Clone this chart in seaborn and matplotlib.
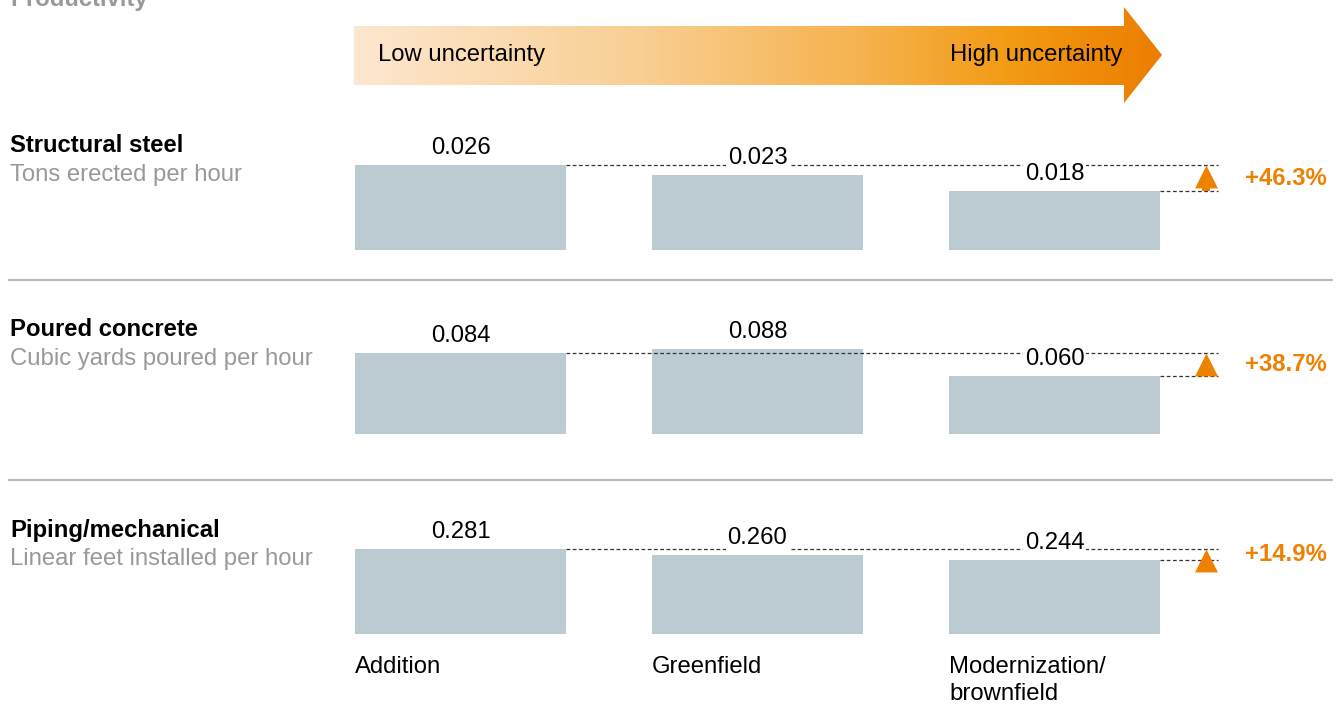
import numpy as np
import pandas as pd
import matplotlib
matplotlib.use("Agg")
import matplotlib.pyplot as plt
import seaborn as sns
from matplotlib.colors import LinearSegmentedColormap
from matplotlib.patches import Polygon

# ----------- Data -----------
categories = ["Addition", "Greenfield", "Modernization/\nbrownfield"]
titles = ["Structural steel", "Poured concrete", "Piping/mechanical"]
subtitles = ["Tons erected per hour", "Cubic yards poured per hour",
             "Linear feet installed per hour"]
steel = [0.026, 0.023, 0.018]
concrete = [0.084, 0.088, 0.060]
piping = [0.281, 0.260, 0.244]
changes = ["+46.3%", "+38.7%", "+14.9%"]

# ----------- Style -----------
sns.set_style("white")
plt.rcParams["font.family"] = ["Liberation Sans", "DejaVu Sans"]
plt.rcParams["text.color"] = "black"
FS = 17.2
BAR = "#bccbd2"
ORANGE = "#ee8100"
GREY = "#999999"

W, H = 1338, 704
fig = plt.figure(figsize=(W / 100, H / 100), dpi=100)

# background axes in pixel coordinates for headers, arrow, separators
bg = fig.add_axes([0, 0, 1, 1])
bg.set_xlim(0, W)
bg.set_ylim(H, 0)
bg.axis("off")

bg.text(10, 6, "Productivity", fontsize=FS, fontweight="bold", color=GREY, va="baseline")

# gradient arrow
arrow_pts = [(354, 26), (1124, 26), (1124, 7), (1162, 55), (1124, 103), (1124, 85), (354, 85)]
arrow = Polygon(arrow_pts, closed=True, facecolor="none", edgecolor="none")
bg.add_patch(arrow)
cmap = LinearSegmentedColormap.from_list(
    "unc", [(0, "#fde7cf"), (0.35, "#f9cf94"), (0.62, "#f6b350"), (0.82, "#f39a12"), (1, "#ec7d00")])
img = bg.imshow(np.linspace(0, 1, 256).reshape(1, -1), cmap=cmap, aspect="auto",
                extent=[354, 1162, 103, 7], zorder=1)
img.set_clip_path(arrow)
bg.text(378, 55, "Low uncertainty", fontsize=FS, va="center", ha="left", zorder=2)
bg.text(1122, 55, "High uncertainty", fontsize=FS, va="center", ha="right", zorder=2)

# separators
for y in [280, 480]:
    bg.plot([9, W - 6], [y, y], color="#b9b9b9", lw=1.6)

# ----------- Panels -----------
baselines = [250, 434, 634]
panel_h = 85
pitch = 297
first_center = 460.5
bar_w = 211 / pitch
ax_left, ax_right = 340, W
xlim = ((ax_left - first_center) / pitch, (ax_right - first_center) / pitch)
x_end = (1218 - first_center) / pitch
x_tri = (1206 - first_center) / pitch
x_pct = (1245 - first_center) / pitch

for k, vals in enumerate([steel, concrete, piping]):
    base = baselines[k]
    ax = fig.add_axes([ax_left / W, 1 - base / H, (ax_right - ax_left) / W, panel_h / H])
    df = pd.DataFrame({"cat": categories, "val": vals})
    sns.barplot(data=df, x="cat", y="val", color=BAR, saturation=1, width=bar_w,
                linewidth=0, ax=ax)
    ax.set_xlim(*xlim)
    ymax = max(vals)
    ax.set_ylim(0, ymax)
    ax.axis("off")

    ax.bar_label(ax.containers[0], fmt="{:.3f}", padding=4.5, fontsize=FS, zorder=5,
                 bbox=dict(facecolor="white", edgecolor="none", pad=1))

    upper, lower = vals[0], vals[2]
    dash = dict(colors="#333333", linestyles=(0, (3, 2)), lw=0.9, zorder=3, clip_on=False)
    ax.hlines(upper, bar_w / 2, x_end, **dash)
    ax.hlines(lower, 2 + bar_w / 2, x_end, **dash)

    # arrow: stem + triangle head (23 px tall)
    px = ymax / panel_h
    stem_top = upper - 12 * px
    if stem_top > lower:
        ax.vlines(x_tri, lower, stem_top, colors=ORANGE, lw=5.8, zorder=4, clip_on=False)
    ax.plot([x_tri], [upper], marker=[(0, 0), (-1, -2), (1, -2)], ms=33, mew=0,
            color=ORANGE, zorder=4, clip_on=False)
    ax.text(x_pct, (upper + lower) / 2, changes[k], fontsize=FS, fontweight="bold",
            color=ORANGE, va="center", ha="left")

    bg.text(10, base - 104, titles[k], fontsize=FS, fontweight="bold", va="center")
    bg.text(10, base - 75, subtitles[k], fontsize=FS, color=GREY, va="center")

    if k == 2:
        for i, c in enumerate(categories):
            ax.annotate(c, xy=(i - bar_w / 2, 0), xytext=(0, -22), textcoords="offset pixels",
                        fontsize=FS, va="top", ha="left", linespacing=1.3, annotation_clip=False)

fig.savefig("out.png", dpi=100)
